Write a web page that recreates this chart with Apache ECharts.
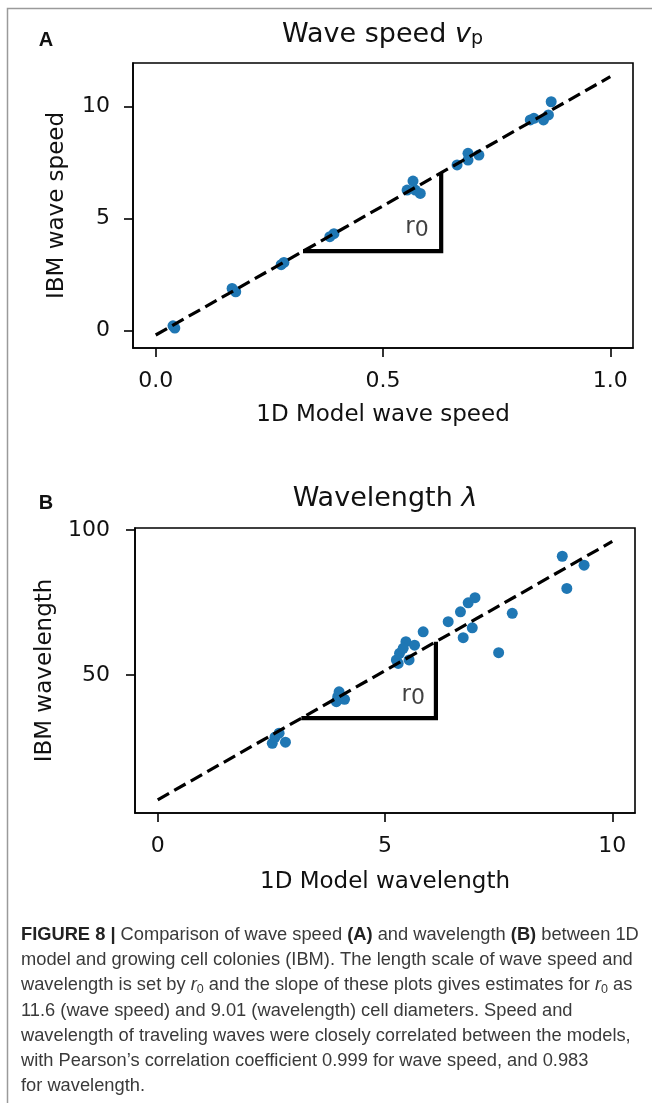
<!DOCTYPE html>
<html><head><meta charset="utf-8">
<script src="https://cdn.jsdelivr.net/npm/echarts@6/dist/echarts.min.js"></script>
<style>html,body{margin:0;padding:0;background:#fff}#c{width:652px;height:1103px}</style>
</head><body><div id="c"></div>
<script>
// Panel A: wave speed
const speedModel = [0.038,0.042,0.168,0.176,0.276,0.282,0.383,0.392,0.553,0.566,0.571,0.582,0.663,0.687,0.687,0.711,0.824,0.832,0.853,0.864,0.870];
const speedIBM   = [0.22,0.12,1.89,1.74,2.95,3.05,4.20,4.33,6.28,6.68,6.28,6.13,7.40,7.92,7.62,7.84,9.41,9.48,9.41,9.63,10.22];
const speedFitX = [0, 1];
const speedFitY = [-0.19, 11.34];
const speedTriX = [0.324, 0.628, 0.628];
const speedTriY = [3.55, 3.55, 7.05];
const speedLabelPos = [0.575, 4.64];
const speedXTicks = [0, 0.5, 1.0];
const speedYTicks = [0, 5, 10];

// Panel B: wavelength
const lenModel = [2.52,2.67,2.81,2.58,3.93,3.99,4.11,3.96,5.29,5.25,5.32,5.46,5.53,5.65,5.40,5.84,6.39,6.66,6.83,6.98,6.72,6.92,7.50,7.80,8.90,9.38,9.00];
const lenIBM   = [26.4,29.9,26.8,28.5,40.8,44.2,41.6,42.5,54.0,55.2,57.5,61.5,55.2,60.3,59.2,64.9,68.4,71.8,74.9,76.7,62.9,66.3,57.7,71.3,91.0,87.9,79.9];
const lenFitX = [0, 10];
const lenFitY = [6.9, 96.1];
const lenTriX = [3.16, 6.12, 6.12];
const lenTriY = [35.1, 35.1, 61.5];
const lenLabelPos = [5.62, 43.1];
const lenXTicks = [0, 5, 10];
const lenYTicks = [50, 100];

const zip = (a, b) => a.map((v, i) => [v, b[i]]);
const FONT = 'DejaVu Sans';
const BLUE = '#1f77b4';

function xAxis(gi, min, max, ticks, name, fmt, gap, margin) {
  return {
    type: 'value', gridIndex: gi, min: min, max: max, position: 'bottom',
    name: name, nameLocation: 'middle', nameGap: gap,
    nameTextStyle: {fontFamily: FONT, fontSize: 23, color: '#111'},
    axisLine: {show: true, onZero: false, lineStyle: {color: '#000', width: 1.6}},
    axisTick: {show: true, length: 9, customValues: ticks, lineStyle: {color: '#000', width: 1.6}},
    axisLabel: {show: true, customValues: ticks, margin: margin, fontFamily: FONT, fontSize: 22, color: '#111', formatter: fmt},
    splitLine: {show: false}
  };
}
function yAxis(gi, min, max, ticks, name, gap, margin) {
  return {
    type: 'value', gridIndex: gi, min: min, max: max, position: 'left',
    name: name, nameLocation: 'middle', nameGap: gap,
    nameTextStyle: {fontFamily: FONT, fontSize: 23, color: '#111'},
    axisLine: {show: true, onZero: false, lineStyle: {color: '#000', width: 1.6}},
    axisTick: {show: true, length: 9, customValues: ticks, lineStyle: {color: '#000', width: 1.6}},
    axisLabel: {show: true, customValues: ticks, margin: margin, fontFamily: FONT, fontSize: 22, color: '#111'},
    splitLine: {show: false}
  };
}
function panelSeries(gi, xs, ys, fx, fy, tx, ty, lp) {
  return [
    {type: 'scatter', xAxisIndex: gi, yAxisIndex: gi, data: zip(xs, ys), symbolSize: 11,
     itemStyle: {color: BLUE, opacity: 1}, z: 2, silent: true},
    {type: 'line', xAxisIndex: gi, yAxisIndex: gi, data: zip(fx, fy), symbol: 'none',
     lineStyle: {color: '#000', width: 3.2, type: [13, 6]}, z: 4, silent: true},
    {type: 'line', xAxisIndex: gi, yAxisIndex: gi, data: zip(tx, ty), symbol: 'none',
     lineStyle: {color: '#000', width: 4.2, cap: 'butt', join: 'miter'}, z: 3, silent: true},
    {type: 'scatter', xAxisIndex: gi, yAxisIndex: gi, data: [lp], symbolSize: 0, z: 5, silent: true,
     label: {show: true, position: 'inside', formatter: '{r|r}{s|0}',
       rich: {r: {fontFamily: FONT, fontSize: 23, color: '#111'},
              s: {fontFamily: FONT, fontSize: 22, color: '#111', padding: [6, 0, 0, 0]}}}}
  ];
}

const chart = echarts.init(document.getElementById('c'), null, {renderer: 'canvas'});
const capRich = {
  n: {fontFamily: 'Liberation Sans', fontSize: 18.3, fill: '#3a3a3a', lineHeight: 25.3},
  b: {fontFamily: 'Liberation Sans', fontSize: 18.3, fontWeight: 'bold', fill: '#222', lineHeight: 25.3},
  i: {fontFamily: 'Liberation Sans', fontSize: 18.3, fontStyle: 'italic', fill: '#3a3a3a', lineHeight: 25.3},
  s: {fontFamily: 'Liberation Sans', fontSize: 12.5, fill: '#3a3a3a', lineHeight: 25.3, padding: [8, 0, 0, 0]}
};
const caption = [
  '{b|FIGURE 8 |}{n| Comparison of wave speed }{b|(A)}{n| and wavelength }{b|(B)}{n| between 1D}',
  '{n|model and growing cell colonies (IBM). The length scale of wave speed and}',
  '{n|wavelength is set by }{i|r}{s|0}{n| and the slope of these plots gives estimates for }{i|r}{s|0}{n| as}',
  '{n|11.6 (wave speed) and 9.01 (wavelength) cell diameters. Speed and}',
  '{n|wavelength of traveling waves were closely correlated between the models,}',
  '{n|with Pearson\u2019s correlation coefficient 0.999 for wave speed, and 0.983}',
  '{n|for wavelength.}'
].join('\n');

chart.setOption({
  animation: false,
  backgroundColor: '#fff',
  grid: [
    {left: 133, top: 63, width: 500, height: 285, show: true, borderColor: '#000', borderWidth: 1.6, backgroundColor: 'transparent'},
    {left: 135, top: 528, width: 500, height: 285, show: true, borderColor: '#000', borderWidth: 1.6, backgroundColor: 'transparent'}
  ],
  xAxis: [
    xAxis(0, -0.05, 1.05, speedXTicks, '1D Model wave speed', v => v.toFixed(1), 56, 22),
    xAxis(1, -0.5, 10.5, lenXTicks, '1D Model wavelength', v => String(v), 58, 22)
  ],
  yAxis: [
    yAxis(0, -0.77, 11.95, speedYTicks, 'IBM wave speed', 64, 23),
    yAxis(1, 2.35, 100.75, lenYTicks, 'IBM wavelength', 78, 25)
  ],
  series: [].concat(
    panelSeries(0, speedModel, speedIBM, speedFitX, speedFitY, speedTriX, speedTriY, speedLabelPos),
    panelSeries(1, lenModel, lenIBM, lenFitX, lenFitY, lenTriX, lenTriY, lenLabelPos)
  ),
  graphic: [
    {type: 'polyline', silent: true, shape: {points: [[7.5, 1103], [7.5, 8.5], [652, 8.5]]},
     style: {stroke: '#9a9a9a', lineWidth: 1.5, fill: null}},
    {type: 'text', silent: true, x: 382.5, y: 34.5,
     style: {text: '{a|Wave speed }{v|v}{p|p}', align: 'center', verticalAlign: 'middle', textAlign: 'center', textVerticalAlign: 'middle',
       rich: {a: {fontFamily: FONT, fontSize: 27, fill: '#111'},
              v: {fontFamily: FONT, fontSize: 27, fontStyle: 'italic', fill: '#111'},
              p: {fontFamily: FONT, fontSize: 19, fill: '#111', padding: [10, 0, 0, 0]}}}},
    {type: 'text', silent: true, x: 385, y: 499,
     style: {text: '{a|Wavelength }{v|\u03bb}', align: 'center', verticalAlign: 'middle', textAlign: 'center', textVerticalAlign: 'middle',
       rich: {a: {fontFamily: FONT, fontSize: 27, fill: '#111'},
              v: {fontFamily: FONT, fontSize: 27, fontStyle: 'italic', fill: '#111'}}}},
    {type: 'text', silent: true, x: 46, y: 40,
     style: {text: 'A', font: 'bold 20px "Liberation Sans"', fill: '#111', align: 'center', verticalAlign: 'middle', textAlign: 'center', textVerticalAlign: 'middle'}},
    {type: 'text', silent: true, x: 46, y: 503,
     style: {text: 'B', font: 'bold 20px "Liberation Sans"', fill: '#111', align: 'center', verticalAlign: 'middle', textAlign: 'center', textVerticalAlign: 'middle'}},
    {type: 'text', silent: true, x: 21, y: 922,
     style: {text: caption, align: 'left', verticalAlign: 'top', textAlign: 'left', textVerticalAlign: 'top', rich: capRich}}
  ]
});
</script>
</body></html>
